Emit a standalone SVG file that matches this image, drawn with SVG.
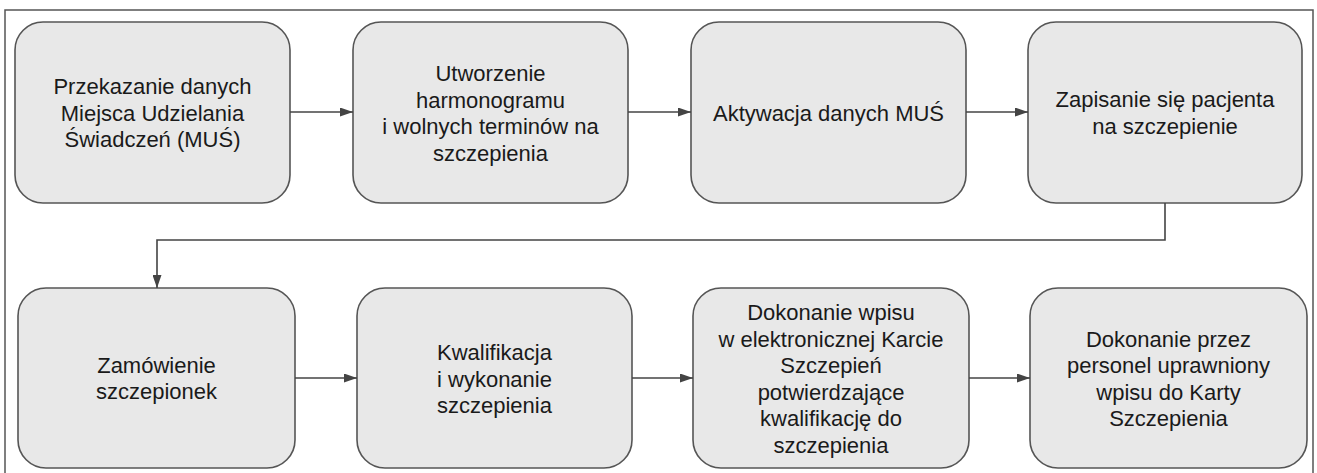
<svg xmlns="http://www.w3.org/2000/svg" width="1317" height="473" viewBox="0 0 1317 473">
<defs>
<style>
.frame{fill:none;stroke:#555;stroke-width:1.5}
.box{fill:#e8e8e8;stroke:#555;stroke-width:1.6}
.lbl{font-family:"Liberation Sans",Arial,sans-serif;font-size:22px;fill:#1a1a1a;text-anchor:middle}
.conn{fill:none;stroke:#444;stroke-width:1.6}
</style>
<marker id="ah" viewBox="0 0 13 9" refX="13" refY="4.5" markerWidth="13" markerHeight="9" markerUnits="userSpaceOnUse" orient="auto">
<path d="M0,0 L13,4.5 L0,9 Z" fill="#444"/>
</marker>
</defs>
<rect x="0" y="0" width="1317" height="473" fill="#fff"/>
<rect class="frame" x="5" y="10" width="1308" height="480"/>

<g id="n1"><rect class="box" x="15" y="22" width="275" height="181" rx="28"/>
<text class="lbl" x="152.5"><tspan x="152.5" y="94">Przekazanie danych</tspan><tspan x="152.5" y="120.5">Miejsca Udzielania</tspan><tspan x="152.5" y="147">Świadczeń (MUŚ)</tspan></text></g>

<g id="n2"><rect class="box" x="353" y="22" width="275" height="181" rx="28"/>
<text class="lbl"><tspan x="490.5" y="81">Utworzenie</tspan><tspan x="490.5" y="107.5">harmonogramu</tspan><tspan x="490.5" y="134">i wolnych terminów na</tspan><tspan x="490.5" y="160.5">szczepienia</tspan></text></g>

<g id="n3"><rect class="box" x="691" y="22" width="275" height="181" rx="28"/>
<text class="lbl"><tspan x="828.5" y="120.5">Aktywacja danych MUŚ</tspan></text></g>

<g id="n4"><rect class="box" x="1028" y="22" width="274" height="181" rx="28"/>
<text class="lbl"><tspan x="1165" y="107">Zapisanie się pacjenta</tspan><tspan x="1165" y="133.5">na szczepienie</tspan></text></g>

<g id="n5"><rect class="box" x="18" y="288" width="277" height="180" rx="28"/>
<text class="lbl"><tspan x="156.5" y="373">Zamówienie</tspan><tspan x="156.5" y="399">szczepionek</tspan></text></g>

<g id="n6"><rect class="box" x="357" y="288" width="275" height="180" rx="28"/>
<text class="lbl"><tspan x="494.5" y="360">Kwalifikacja</tspan><tspan x="494.5" y="386.5">i wykonanie</tspan><tspan x="494.5" y="413">szczepienia</tspan></text></g>

<g id="n7"><rect class="box" x="693" y="288" width="276" height="180" rx="28"/>
<text class="lbl"><tspan x="831" y="320">Dokonanie wpisu</tspan><tspan x="831" y="346.5">w elektronicznej Karcie</tspan><tspan x="831" y="373">Szczepień</tspan><tspan x="831" y="399.5">potwierdzające</tspan><tspan x="831" y="426">kwalifikację do</tspan><tspan x="831" y="452.5">szczepienia</tspan></text></g>

<g id="n8"><rect class="box" x="1030" y="288" width="277" height="180" rx="28"/>
<text class="lbl"><tspan x="1168.5" y="346.5">Dokonanie przez</tspan><tspan x="1168.5" y="373">personel uprawniony</tspan><tspan x="1168.5" y="399.5">wpisu do Karty</tspan><tspan x="1168.5" y="426">Szczepienia</tspan></text></g>

<g id="connectors">
<path class="conn" d="M290,112 H353" marker-end="url(#ah)"/>
<path class="conn" d="M628,112 H691" marker-end="url(#ah)"/>
<path class="conn" d="M966,112 H1028" marker-end="url(#ah)"/>
<path class="conn" d="M1165,203 V240 H157 V288" marker-end="url(#ah)"/>
<path class="conn" d="M295,378 H357" marker-end="url(#ah)"/>
<path class="conn" d="M632,378 H693" marker-end="url(#ah)"/>
<path class="conn" d="M969,378 H1030" marker-end="url(#ah)"/>
</g>
</svg>
